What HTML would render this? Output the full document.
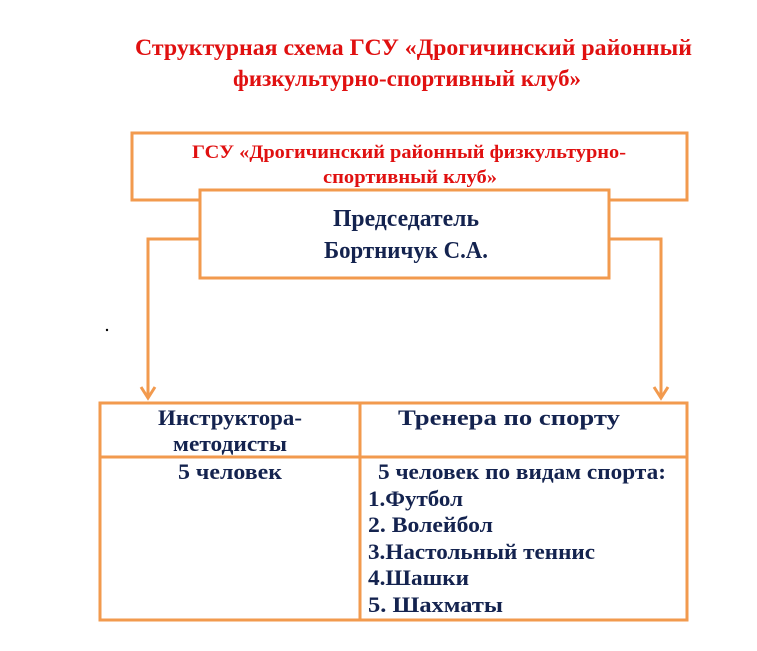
<!DOCTYPE html>
<html><head><meta charset="utf-8"><style>
html,body{margin:0;padding:0;background:#fff;width:757px;height:651px;overflow:hidden}
text{font-family:"Liberation Serif",serif;font-weight:bold}
</style></head><body>
<svg width="757" height="651" viewBox="0 0 757 651" xmlns="http://www.w3.org/2000/svg">
<g fill="#e01010" font-size="23">
<text x="135" y="55" textLength="557" lengthAdjust="spacingAndGlyphs">Структурная схема ГСУ «Дрогичинский районный</text>
<text x="233" y="86" textLength="348" lengthAdjust="spacingAndGlyphs">физкультурно-спортивный клуб»</text>
</g>
<g fill="none" stroke="#f29a4e" stroke-width="3">
<rect x="132" y="133" width="555" height="67"/>
<rect x="200" y="190" width="409" height="88" fill="#fff"/>
<polyline points="200,239 148,239 148,397"/>
<polyline points="609,239 661,239 661,397"/>
<polyline points="141,387 148,398 155,387"/>
<polyline points="654,387 661,398 668,387"/>
<rect x="100" y="403" width="587" height="217"/>
<line x1="360" y1="403" x2="360" y2="620"/>
<line x1="100" y1="457" x2="687" y2="457"/>
</g>
<g fill="#e01010" font-size="19">
<text x="192" y="158" textLength="434" lengthAdjust="spacingAndGlyphs">ГСУ «Дрогичинский районный физкультурно-</text>
<text x="323" y="183" textLength="174" lengthAdjust="spacingAndGlyphs">спортивный клуб»</text>
</g>
<g fill="#14234f" font-size="24">
<text x="333" y="226" textLength="146" lengthAdjust="spacingAndGlyphs">Председатель</text>
<text x="324" y="258" textLength="164" lengthAdjust="spacingAndGlyphs">Бортничук С.А.</text>
</g>
<g fill="#14234f" font-size="22">
<text x="158" y="425" textLength="144" lengthAdjust="spacingAndGlyphs">Инструктора-</text>
<text x="173" y="451" textLength="114" lengthAdjust="spacingAndGlyphs">методисты</text>
<text x="398" y="425" textLength="222" lengthAdjust="spacingAndGlyphs">Тренера по спорту</text>
<text x="178" y="479" textLength="104" lengthAdjust="spacingAndGlyphs">5 человек</text>
<text x="378" y="479" textLength="288" lengthAdjust="spacingAndGlyphs">5 человек по видам спорта:</text>
<text x="368" y="506" textLength="95" lengthAdjust="spacingAndGlyphs">1.Футбол</text>
<text x="368" y="532" textLength="125" lengthAdjust="spacingAndGlyphs">2. Волейбол</text>
<text x="368" y="559" textLength="227" lengthAdjust="spacingAndGlyphs">3.Настольный теннис</text>
<text x="368" y="585" textLength="101" lengthAdjust="spacingAndGlyphs">4.Шашки</text>
<text x="368" y="612" textLength="135" lengthAdjust="spacingAndGlyphs">5.  Шахматы</text>
</g>
<circle cx="107" cy="330" r="1.2" fill="#000"/>
</svg>
</body></html>
